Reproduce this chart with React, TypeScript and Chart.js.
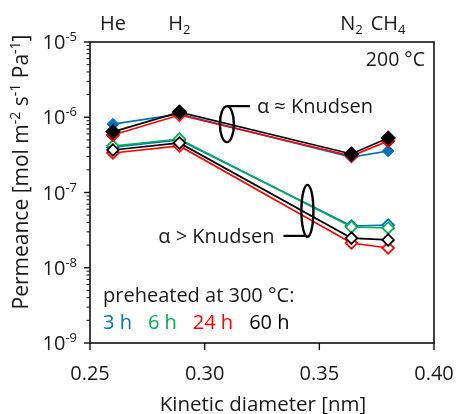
import React, { useEffect, useRef } from 'react';
import { Chart, registerables } from 'chart.js';

Chart.register(...registerables);

// ---------- data ----------
const kineticDiameters = [0.26, 0.289, 0.364, 0.38];
const gasNames = ['He', 'H', 'N', 'CH'];
const gasSubscripts = ['', '2', '2', '4'];

// filled symbols (alpha ≈ Knudsen group)
const filled3h = [8.1e-7, 1.1e-6, 2.96e-7, 3.56e-7];
const filled24h = [5.8e-7, 1.07e-6, 3.05e-7, 4.83e-7];
const filled60h = [6.4e-7, 1.17e-6, 3.25e-7, 5.3e-7];

// open symbols (alpha > Knudsen group)
const open3h = [4.0e-7, 4.99e-7, 3.59e-8, 3.7e-8];
const open6h = [4.15e-7, 5.14e-7, 3.48e-8, 3.38e-8];
const open24h = [3.35e-7, 4.15e-7, 2.13e-8, 1.83e-8];
const open60h = [3.67e-7, 4.55e-7, 2.48e-8, 2.34e-8];

const xTickValues = [0.25, 0.3, 0.35, 0.4];
const yTickExponents = [-9, -8, -7, -6, -5];
const legendLabels = ['3 h', '6 h', '24 h', '60 h'];

const BLUE = '#0070C0';
const GREEN = '#00B050';
const RED = '#FF0000';
const BLACK = '#000000';
const legendColors = [BLUE, GREEN, RED, BLACK];

const FONT = '"Open Sans", "DejaVu Sans", sans-serif';
const TEXT = '#1a1a1a';

type Part = [string, number]; // 0 normal, 1 sup, -1 sub

function drawParts(
  ctx: CanvasRenderingContext2D,
  parts: Part[],
  x: number,
  y: number,
  align: 'left' | 'center' | 'right',
  size: number,
  color: string
) {
  const small = Math.round(size * 0.66);
  const widths = parts.map(([t, k]) => {
    ctx.font = `${k ? small : size}px ${FONT}`;
    return ctx.measureText(t).width;
  });
  const total = widths.reduce((a, b) => a + b, 0);
  let cx = align === 'left' ? x : align === 'right' ? x - total : x - total / 2;
  ctx.fillStyle = color;
  ctx.textAlign = 'left';
  ctx.textBaseline = 'alphabetic';
  parts.forEach(([t, k], i) => {
    ctx.font = `${k ? small : size}px ${FONT}`;
    const dy = k === 1 ? -size * 0.4 : k === -1 ? size * 0.2 : 0;
    ctx.fillText(t, cx, y + dy);
    cx += widths[i];
  });
}

const decorPlugin = {
  id: 'decor',
  afterDatasetsDraw(chart: any) {
    const ctx: CanvasRenderingContext2D = chart.ctx;
    const { left, right, top, bottom } = chart.chartArea;
    const xs = chart.scales.x;
    const ys = chart.scales.y;
    ctx.save();

    // frame
    ctx.strokeStyle = '#111';
    ctx.lineWidth = 1.6;
    ctx.strokeRect(left, top, right - left, bottom - top);

    // x ticks + labels
    ctx.lineWidth = 1.4;
    xTickValues.forEach((v) => {
      const px = xs.getPixelForValue(v);
      ctx.beginPath();
      ctx.moveTo(px, bottom);
      ctx.lineTo(px, bottom + 7);
      ctx.stroke();
      drawParts(ctx, [[v.toFixed(2), 0]], px, bottom + 37, 'center', 20, TEXT);
    });

    // y ticks (major + minor) + labels
    yTickExponents.forEach((e, i) => {
      const py = ys.getPixelForValue(Math.pow(10, e));
      ctx.lineWidth = 1.4;
      ctx.beginPath();
      ctx.moveTo(left - 6, py);
      ctx.lineTo(left, py);
      ctx.stroke();
      drawParts(ctx, [['10', 0], [String(e), 1]], left - 13, py + 7, 'right', 20, TEXT);
      if (i < yTickExponents.length - 1) {
        for (let m = 2; m <= 9; m++) {
          const pm = ys.getPixelForValue(m * Math.pow(10, e));
          ctx.lineWidth = 1;
          ctx.beginPath();
          ctx.moveTo(left - 3.5, pm);
          ctx.lineTo(left, pm);
          ctx.stroke();
        }
      }
    });

    // axis titles
    drawParts(ctx, [['Kinetic diameter [nm]', 0]], (left + right) / 2 + 1, 411, 'center', 20.5, TEXT);
    ctx.save();
    ctx.translate(28, 172);
    ctx.rotate(-Math.PI / 2);
    drawParts(
      ctx,
      [
        ['Permeance [mol m', 0],
        ['-2', 1],
        [' s', 0],
        ['-1', 1],
        [' Pa', 0],
        ['-1', 1],
        [']', 0],
      ],
      0,
      0,
      'center',
      21,
      TEXT
    );
    ctx.restore();

    // gas labels on top
    kineticDiameters.forEach((d, i) => {
      const px = xs.getPixelForValue(d);
      const parts: Part[] = [[gasNames[i], 0]];
      if (gasSubscripts[i]) parts.push([gasSubscripts[i], -1]);
      drawParts(ctx, parts, px, 30, 'center', 20, TEXT);
    });

    // temperature
    drawParts(ctx, [['200 °C', 0]], right - 9, 66, 'right', 19.5, TEXT);

    // Knudsen annotations
    ctx.strokeStyle = '#000';
    const e1x = xs.getPixelForValue(0.3097);
    const e1y = ys.getPixelForValue(8.1e-7);
    ctx.lineWidth = 2.4;
    ctx.beginPath();
    ctx.ellipse(e1x, e1y, 7, 18, 0, 0, Math.PI * 2);
    ctx.stroke();
    ctx.lineWidth = 2.2;
    ctx.beginPath();
    ctx.moveTo(e1x, e1y - 18);
    ctx.lineTo(e1x + 23, e1y - 18);
    ctx.stroke();
    drawParts(ctx, [['α ≈ Knudsen', 0]], e1x + 30, e1y - 11, 'left', 20, TEXT);

    const e2x = xs.getPixelForValue(0.3448);
    const e2y = ys.getPixelForValue(5.7e-8);
    ctx.lineWidth = 2.4;
    ctx.beginPath();
    ctx.ellipse(e2x, e2y, 6, 26, 0, 0, Math.PI * 2);
    ctx.stroke();
    ctx.lineWidth = 2.2;
    ctx.beginPath();
    ctx.moveTo(e2x, e2y + 25);
    ctx.lineTo(e2x - 24, e2y + 25);
    ctx.stroke();
    drawParts(ctx, [['α > Knudsen', 0]], e2x - 33, e2y + 32, 'right', 20, TEXT);

    // legend text
    drawParts(ctx, [['preheated at 300 °C:', 0]], left + 13, 302, 'left', 20, TEXT);
    let lx = left + 13;
    legendLabels.forEach((t, i) => {
      ctx.font = `20px ${FONT}`;
      const w = ctx.measureText(t).width;
      drawParts(ctx, [[t, 0]], lx, 329, 'left', 20, legendColors[i]);
      lx += w + 16;
    });

    ctx.restore();
  },
};

function pts(values: number[]) {
  return values.map((v, i) => ({ x: kineticDiameters[i], y: v }));
}

function filledSet(label: string, values: number[], color: string, radius: number, order: number) {
  return {
    label,
    data: pts(values),
    borderColor: color,
    backgroundColor: color,
    pointBackgroundColor: color,
    pointBorderColor: color,
    pointBorderWidth: 1,
    pointStyle: 'rectRot',
    pointRadius: radius,
    borderWidth: 1.7,
    order,
  };
}

function openSet(label: string, values: number[], color: string, order: number) {
  return {
    label,
    data: pts(values),
    borderColor: color,
    backgroundColor: '#ffffff',
    pointBackgroundColor: '#ffffff',
    pointBorderColor: color,
    pointBorderWidth: 1.8,
    pointStyle: 'rectRot',
    pointRadius: 5.8,
    borderWidth: 1.7,
    order,
  };
}

export default function App() {
  const ref = useRef<HTMLCanvasElement | null>(null);
  useEffect(() => {
    if (!ref.current) return;
    const chart = new Chart(ref.current, {
      type: 'line',
      data: {
        datasets: [
          openSet('3 h open', open3h, BLUE, 7),
          openSet('6 h open', open6h, GREEN, 6),
          openSet('24 h open', open24h, RED, 5),
          openSet('60 h open', open60h, BLACK, 4),
          filledSet('3 h', filled3h, BLUE, 5.8, 3),
          filledSet('24 h', filled24h, RED, 6.8, 2),
          filledSet('60 h', filled60h, BLACK, 7.3, 1),
        ] as any,
      },
      options: {
        animation: false,
        responsive: false,
        devicePixelRatio: 1,
        layout: { padding: { left: 90, right: 22, top: 42, bottom: 71 } },
        scales: {
          x: { type: 'linear', min: 0.25, max: 0.4, display: false },
          y: { type: 'logarithmic', min: 1e-9, max: 1e-5, display: false },
        },
        plugins: { legend: { display: false }, tooltip: { enabled: false } },
      },
      plugins: [decorPlugin],
    });
    return () => chart.destroy();
  }, []);
  return (
    <div style={{ position: 'absolute', left: 0, top: 0, width: 456, height: 414, background: '#fff' }}>
      <canvas ref={ref} width={456} height={414} style={{ display: 'block' }} />
    </div>
  );
}
